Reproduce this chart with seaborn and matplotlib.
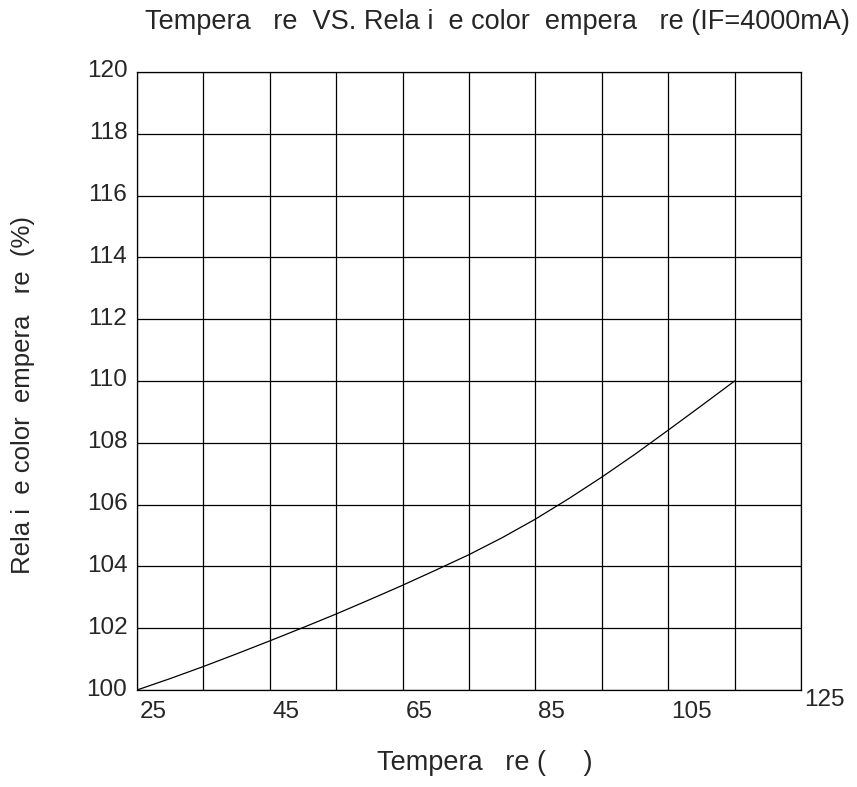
import matplotlib
matplotlib.use("Agg")
import matplotlib.pyplot as plt
import matplotlib.transforms as mtransforms
import seaborn as sns
import pandas as pd

# values (every 5 degrees)
temps = [25, 30, 35, 40, 45, 50, 55, 60, 65, 70, 75, 80, 85, 90, 95, 100, 105, 110, 115]
rel_cct = [100.0, 100.37, 100.76, 101.17, 101.59, 102.02, 102.46, 102.92, 103.39, 103.88,
           104.38, 104.93, 105.53, 106.19, 106.89, 107.63, 108.41, 109.2, 110.0]

x_ticks = [25, 45, 65, 85, 105, 125]
x_grid = [35, 55, 75, 95, 115]
y_ticks = [100, 102, 104, 106, 108, 110, 112, 114, 116, 118, 120]

df = pd.DataFrame({"temp": temps, "rel": rel_cct})

sns.set_style("white")
plt.rcParams['font.family'] = ['Liberation Sans', 'DejaVu Sans']

fig = plt.figure(figsize=(8.57, 7.87), dpi=100)
ax = fig.add_axes([137 / 857, 1 - 690 / 787, 664 / 857, 618 / 787])

sns.lineplot(data=df, x="temp", y="rel", color="black", linewidth=0.9, ax=ax)

ax.set_xlim(25, 125)
ax.set_ylim(100, 120)
ax.set_xticks(x_ticks)
ax.set_xticks(x_grid, minor=True)
ax.set_xticklabels([str(t) for t in x_ticks], ha="left", fontsize=17.5)
ax.set_yticks(y_ticks)
ax.set_yticklabels([str(t) for t in y_ticks], fontsize=17.5)
ax.tick_params(which="both", length=0)
ax.tick_params(axis="x", pad=8)
ax.tick_params(axis="y", pad=7)

# labels sit just right of their gridline, last one a bit higher
for i, lbl in enumerate(ax.get_xticklabels()):
    dy = 12 if i == len(x_ticks) - 1 else 0
    off = mtransforms.ScaledTranslation(3 / 100, dy / 100, fig.dpi_scale_trans)
    lbl.set_transform(lbl.get_transform() + off)
for lbl in ax.get_yticklabels():
    off = mtransforms.ScaledTranslation(0, 3 / 100, fig.dpi_scale_trans)
    lbl.set_transform(lbl.get_transform() + off)

ax.grid(which="both", color="black", linewidth=0.9)
for sp in ax.spines.values():
    sp.set_color("black")
    sp.set_linewidth(0.9)

ax.set_xlabel("")
ax.set_ylabel("")

fig.text(145 / 857, 1 - 22 / 787, "Tempera   re  VS. Rela i  e color  empera   re (IF=4000mA)",
         ha="left", va="center", fontsize=19.5)
fig.text(485 / 857, 1 - 763 / 787, "Tempera   re (     )", ha="center", va="center", fontsize=19.5)
fig.text(23 / 857, 1 - 395 / 787, "Rela i  e color  empera   re  (%)", ha="center", va="center",
         rotation=90, fontsize=18.5)

fig.savefig("out.png", dpi=100)
